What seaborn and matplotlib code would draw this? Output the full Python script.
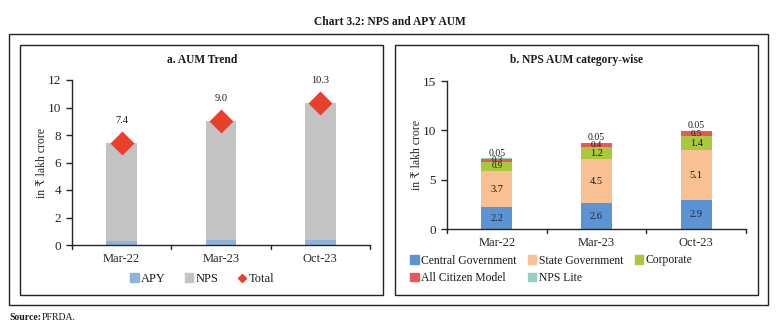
import numpy as np
import pandas as pd
import matplotlib
matplotlib.use("Agg")
import matplotlib.pyplot as plt
from matplotlib.patches import Rectangle
from matplotlib.lines import Line2D
import seaborn as sns

# ---- data -------------------------------------------------------------
periods = ["Mar-22", "Mar-23", "Oct-23"]

# a. AUM trend (in lakh crore)
apy = [0.28, 0.35, 0.39]
nps = [7.12, 8.65, 9.91]
total = [7.4, 9.0, 10.3]

# b. NPS AUM by category (in lakh crore)
central_govt = [2.2, 2.6, 2.9]
state_govt = [3.7, 4.5, 5.1]
corporate = [0.9, 1.2, 1.4]
all_citizen = [0.3, 0.4, 0.5]
nps_lite = [0.05, 0.05, 0.05]

# ---- style --------------------------------------------------------------
sns.set_theme(style="ticks")
plt.rcParams["font.family"] = ["Liberation Serif", "DejaVu Serif", "DejaVu Sans"]
plt.rcParams["axes.linewidth"] = 1.0
plt.rcParams["text.color"] = "#1a1a1a"

C_APY = "#8fb4dc"
C_NPS = "#c3c3c3"
C_TOTAL = "#e8402a"
C_CENTRAL = "#5b93d3"
C_STATE = "#f8c093"
C_CORP = "#a9c83c"
C_ACM = "#e8575a"
C_LITE = "#8fd2c4"

W, H = 780, 332
fig = plt.figure(figsize=(W / 100, H / 100), dpi=100)


def fx(px):
    return px / W


def fy(py):
    return 1 - py / H


# frames
fig.patches.append(Rectangle((fx(9), fy(305)), fx(768) - fx(9), fy(34) - fy(305),
                             transform=fig.transFigure, fill=False, lw=1.0, ec="#222222"))
fig.patches.append(Rectangle((fx(20), fy(295)), fx(383) - fx(20), fy(45) - fy(295),
                             transform=fig.transFigure, fill=False, lw=1.0, ec="#222222"))
fig.patches.append(Rectangle((fx(395), fy(295)), fx(758) - fx(395), fy(45) - fy(295),
                             transform=fig.transFigure, fill=False, lw=1.0, ec="#222222"))

fig.text(fx(390), fy(22), "Chart 3.2: NPS and APY AUM", ha="center", va="center",
         fontsize=8.3, fontweight="bold")
fig.text(fx(9), fy(318), "Source:", ha="left", va="center", fontsize=7, fontweight="bold")
fig.text(fx(42), fy(318), "PFRDA.", ha="left", va="center", fontsize=7)

fig.text(fx(202), fy(60), "a. AUM Trend", ha="center", va="center", fontsize=8.3, fontweight="bold")
fig.text(fx(577), fy(60), "b. NPS AUM category-wise", ha="center", va="center",
         fontsize=8.3, fontweight="bold")


def style_axis(ax, ymax, step):
    ax.set_ylim(0, ymax)
    ax.set_xlim(-0.5, 2.5)
    ax.set_yticks(np.arange(0, ymax + 0.01, step))
    sns.despine(ax=ax)
    ax.tick_params(axis="y", labelsize=9.5, length=4, width=1.0, pad=4)
    ax.tick_params(axis="x", labelsize=9, length=0, pad=6)
    ax.set_xlabel("")
    ax.set_ylabel("in ₹ lakh crore", fontsize=8.5)
    # boundary ticks between categories
    for xb in [-0.5, 0.5, 1.5, 2.5]:
        ax.plot([xb, xb], [0, -ymax * 0.025], color="#222222", lw=1.0, clip_on=False)


# ---- panel a ------------------------------------------------------------
axa = fig.add_axes([fx(72), fy(245), fx(370) - fx(72), fy(80) - fy(245)])
dfa = pd.DataFrame({"period": periods, "apy": apy, "nps": nps, "total": total})
dfa["stack_top"] = dfa["apy"] + dfa["nps"]
sns.barplot(data=dfa, x="period", y="stack_top", color=C_NPS, width=0.31,
            linewidth=0, saturation=1, ax=axa)
sns.barplot(data=dfa, x="period", y="apy", color=C_APY, width=0.31,
            linewidth=0, saturation=1, ax=axa)
sns.pointplot(data=dfa, x="period", y="total", color=C_TOTAL, markers="D",
              linestyle="none", markersize=10, ax=axa)
for i, v in enumerate(total):
    axa.text(i, v + 1.65, f"{v:.1f}", ha="center", va="center", fontsize=7.5)
style_axis(axa, 12, 2)
axa.yaxis.set_label_coords(-(72 - 48) / (370 - 72), 0.5)

handles_a = [
    Rectangle((0, 0), 1, 1, color=C_APY),
    Rectangle((0, 0), 1, 1, color=C_NPS),
    Line2D([], [], marker="D", color=C_TOTAL, linestyle="none", markersize=4),
]
fig.legend(handles_a, ["APY", "NPS", "Total"], loc="center",
           bbox_to_anchor=(fx(202), fy(279)), ncol=3, frameon=False, fontsize=9,
           handlelength=0.7, handleheight=0.7, handletextpad=0.2, columnspacing=1.5)

# ---- panel b ------------------------------------------------------------
axb = fig.add_axes([fx(447), fy(229), fx(746) - fx(447), fy(81) - fy(229)])
layers = [
    ("Central Government", central_govt, C_CENTRAL),
    ("State Government", state_govt, C_STATE),
    ("Corporate", corporate, C_CORP),
    ("All Citizen Model", all_citizen, C_ACM),
    ("NPS Lite", nps_lite, C_LITE),
]
cum = np.cumsum([np.array(v) for _, v, _ in layers], axis=0)
# paint cumulative heights from the top layer downwards
for k in range(len(layers) - 1, -1, -1):
    name, vals, col = layers[k]
    dfb = pd.DataFrame({"period": periods, "height": cum[k]})
    sns.barplot(data=dfb, x="period", y="height", color=col, width=0.31,
                linewidth=0, saturation=1, ax=axb)

for k, (name, vals, col) in enumerate(layers):
    for i, v in enumerate(vals):
        if name == "NPS Lite":
            axb.text(i, cum[k][i] + 0.55, f"{v:.2f}", ha="center", va="center", fontsize=7)
        else:
            mid = cum[k][i] - v / 2
            fs = 6.5 if v < 1 else 7.5
            axb.text(i, mid, f"{v:.1f}", ha="center", va="center", fontsize=fs,
                     color="#1f2a44" if k == 0 else "#1a1a1a")
style_axis(axb, 15, 5)
axb.yaxis.set_label_coords(-(447 - 423) / (746 - 447), 0.5)

handles_b = [Rectangle((0, 0), 1, 1, color=c) for _, _, c in layers]
labels_b = [n for n, _, _ in layers]
order = [0, 3, 1, 4, 2]
fig.legend([handles_b[i] for i in order], [labels_b[i] for i in order],
           loc="upper left", bbox_to_anchor=(fx(400), fy(244)), ncol=3, frameon=False,
           fontsize=8.4, handlelength=0.7, handleheight=0.7, handletextpad=0.2,
           columnspacing=1.0, labelspacing=0.5)

fig.savefig("out.png", dpi=100)
